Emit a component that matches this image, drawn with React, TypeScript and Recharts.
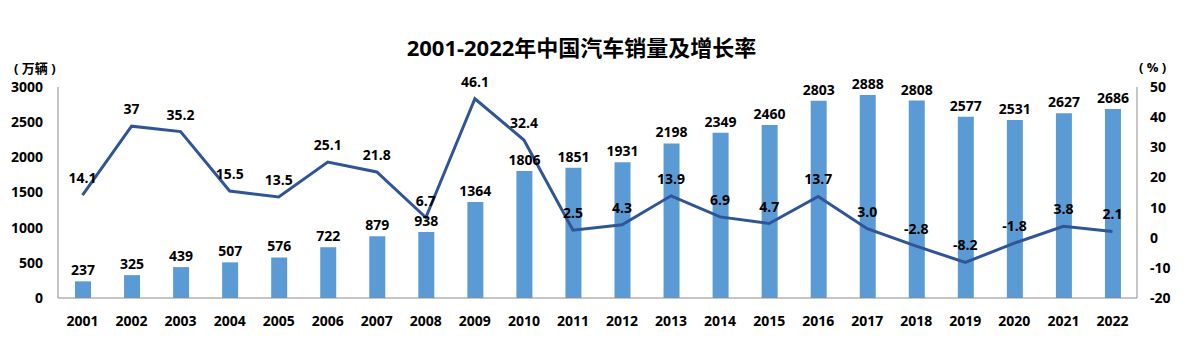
import { ComposedChart, Bar, Line, XAxis, YAxis, LabelList } from 'recharts';

const years = ['2001', '2002', '2003', '2004', '2005', '2006', '2007', '2008', '2009', '2010', '2011',
  '2012', '2013', '2014', '2015', '2016', '2017', '2018', '2019', '2020', '2021', '2022'];
const sales = [237, 325, 439, 507, 576, 722, 879, 938, 1364, 1806, 1851, 1931, 2198, 2349, 2460, 2803,
  2888, 2808, 2577, 2531, 2627, 2686];
const growth = [14.1, 37, 35.2, 15.5, 13.5, 25.1, 21.8, 6.7, 46.1, 32.4, 2.5, 4.3, 13.9, 6.9, 4.7, 13.7,
  3.0, -2.8, -8.2, -1.8, 3.8, 2.1];
const growthLabels = ['14.1', '37', '35.2', '15.5', '13.5', '25.1', '21.8', '6.7', '46.1', '32.4', '2.5',
  '4.3', '13.9', '6.9', '4.7', '13.7', '3.0', '-2.8', '-8.2', '-1.8', '3.8', '2.1'];
const leftTicks = [0, 500, 1000, 1500, 2000, 2500, 3000];
const rightTicks = [-20, -10, 0, 10, 20, 30, 40, 50];

const FONT = '"Open Sans", "Noto Sans CJK SC", sans-serif';
const tickStyle = { fontSize: 14, fontWeight: 700, fill: '#000', fontFamily: FONT };
const labelStyle = { fontSize: 14, fontWeight: 700, fill: '#000', fontFamily: FONT };

export default function App() {
  const data = years.map((y, i) => ({ year: y, sales: sales[i], growth: growth[i], label: growthLabels[i] }));

  return (
    <div style={{ position: 'absolute', left: 0, top: 0, width: 1189, height: 352, background: '#fff', fontFamily: FONT }}>
      <div style={{ position: 'absolute', left: 0, width: 1163, top: 30, textAlign: 'center', fontSize: 22, fontWeight: 700, color: '#000' }}>
        2001-2022年中国汽车销量及增长率
      </div>
      <div style={{ position: 'absolute', left: 14, top: 58, fontSize: 13, fontWeight: 700, whiteSpace: 'pre' }}>( 万辆 )</div>
      <div style={{ position: 'absolute', left: 1139, top: 58, fontSize: 13, fontWeight: 700, whiteSpace: 'pre' }}>( % )</div>
      <ComposedChart width={1189} height={352} data={data} margin={{ top: 87, right: 0, left: 0, bottom: 24 }}>
        <XAxis dataKey="year" tick={tickStyle} tickLine={false} stroke="#8c8c8c" height={30} tickMargin={12} interval={0} />
        <YAxis yAxisId="left" domain={[0, 3000]} ticks={leftTicks} width={58} tick={tickStyle}
          tickLine={false} tickSize={0} tickMargin={15} stroke="#8c8c8c" />
        <YAxis yAxisId="right" orientation="right" domain={[-20, 50]} ticks={rightTicks} width={52} tick={{ ...tickStyle, textAnchor: 'start' }}
          tickLine={false} tickSize={0} tickMargin={13} stroke="#8c8c8c" />
        <Bar yAxisId="left" dataKey="sales" fill="#5B9BD5" barSize={16} isAnimationActive={false}>
          <LabelList dataKey="sales" position="top" offset={6} style={labelStyle} />
        </Bar>
        <Line yAxisId="right" dataKey="growth" type="linear" stroke="#2F5597" strokeWidth={3} dot={false} isAnimationActive={false}>
          <LabelList dataKey="label" position="top" offset={12} style={labelStyle} />
        </Line>
      </ComposedChart>
    </div>
  );
}
